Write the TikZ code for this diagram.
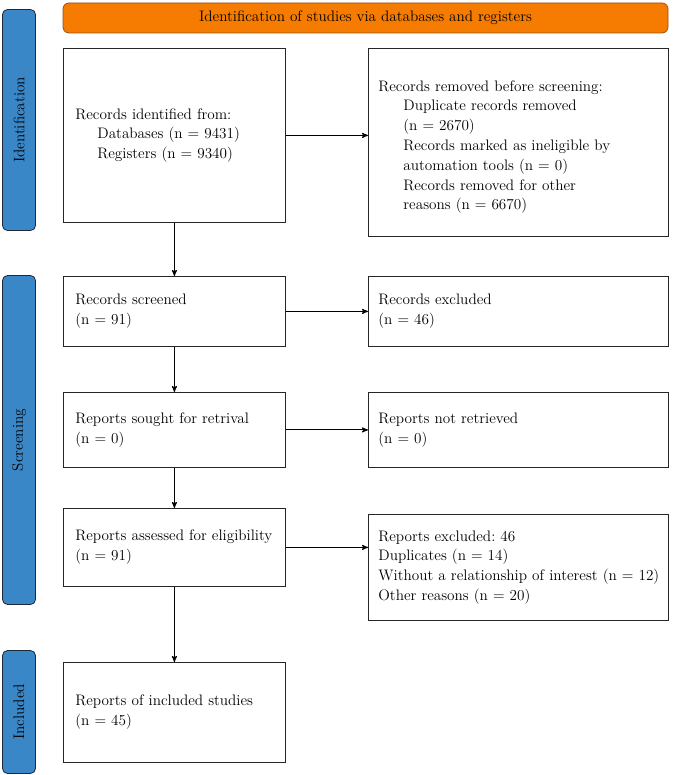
\documentclass[tikz,border=0pt]{standalone}
\usepackage{fontspec}
\setmainfont{lmroman12-regular.otf}
\usetikzlibrary{arrows}
\definecolor{headorange}{RGB}{245,124,0}
\definecolor{headedge}{RGB}{150,80,20}
\definecolor{stageblue}{RGB}{58,135,200}
\definecolor{stageedge}{RGB}{30,40,55}
\newcommand{\ind}{\hspace*{22pt}}
\frenchspacing

\begin{document}
\begin{tikzpicture}[x=1pt,y=-1pt,->,>=stealth',line width=1.1pt,
                    font=\fontsize{15.2}{19.8}\selectfont]
  \tikzstyle{box}=[rectangle,draw=black!85,thick,fill=white,align=left,
                   anchor=north west,inner ysep=0pt]
  \tikzstyle{stage}=[rectangle,rounded corners=5pt,draw=stageedge,thick,
                     fill=stageblue,minimum height=33,rotate=90]
  \tikzstyle{head}=[rectangle,rounded corners=6pt,draw=headedge,thick,
                    fill=headorange,minimum width=605,minimum height=30]

  \useasboundingbox (0,0) rectangle (672,775);

  % phases
  \node[head]  (H)  at (365.5,18)  {Identification of studies via databases and registers};
  \node[stage,minimum width=221] (SI) at (19,120) {Identification};
  \node[stage,minimum width=329] (SS) at (19,440) {Screening};
  \node[stage,minimum width=123] (SN) at (19,712) {Included};

  % left column
  \node[box,inner xsep=12pt,text width=198,minimum height=174] (b1) at (63,48)
    {Records identified from:\\ \ind Databases (n = 9431)\\ \ind Registers (n = 9340)};
  \node[box,inner xsep=12pt,text width=198,minimum height=70]  (b3) at (63,276)
    {Records screened\\(n = 91)};
  \node[box,inner xsep=12pt,text width=198,minimum height=75]  (b5) at (63,392)
    {Reports sought for retrival\\(n = 0)};
  \node[box,inner xsep=12pt,text width=198,minimum height=78]  (b7) at (63,508)
    {Reports assessed for eligibility\\(n = 91)};
  \node[box,inner xsep=12pt,text width=198,minimum height=100] (b9) at (63,662)
    {Reports of included studies\\(n = 45)};

  % right column
  \node[box,inner xsep=10pt,text width=280,minimum height=188] (b2) at (368,48)
    {\rule{0pt}{20pt}Records removed before screening:\\
     \hspace*{25pt}Duplicate records removed\\
     \hspace*{25pt}(n = 2670)\\
     \hspace*{25pt}Records marked as ineligible by\\
     \hspace*{25pt}automation tools (n = 0)\\
     \hspace*{25pt}Records removed for other\\
     \hspace*{25pt}reasons (n = 6670)};
  \node[box,inner xsep=10pt,text width=280,minimum height=70]  (b4) at (368,276)
    {Records excluded\\(n = 46)};
  \node[box,inner xsep=10pt,text width=280,minimum height=75]  (b6) at (368,392)
    {Reports not retrieved\\(n = 0)};
  \node[box,inner xsep=10pt,text width=280,minimum height=106] (b8) at (368,514)
    {Reports excluded: 46\\Duplicates (n = 14)\\
     \mbox{Without a relationship of interest (n = 12)}\\Other reasons (n = 20)};

  \draw (b1) -- (b3);
  \draw (b3) -- (b5);
  \draw (b5) -- (b7);
  \draw (b7) -- (b9);
  \draw (b1) -- (b1 -| b2.west);
  \draw (b3) -- (b4);
  \draw (b5) -- (b6);
  \draw (b7) -- (b7 -| b8.west);

\end{tikzpicture}
\end{document}
